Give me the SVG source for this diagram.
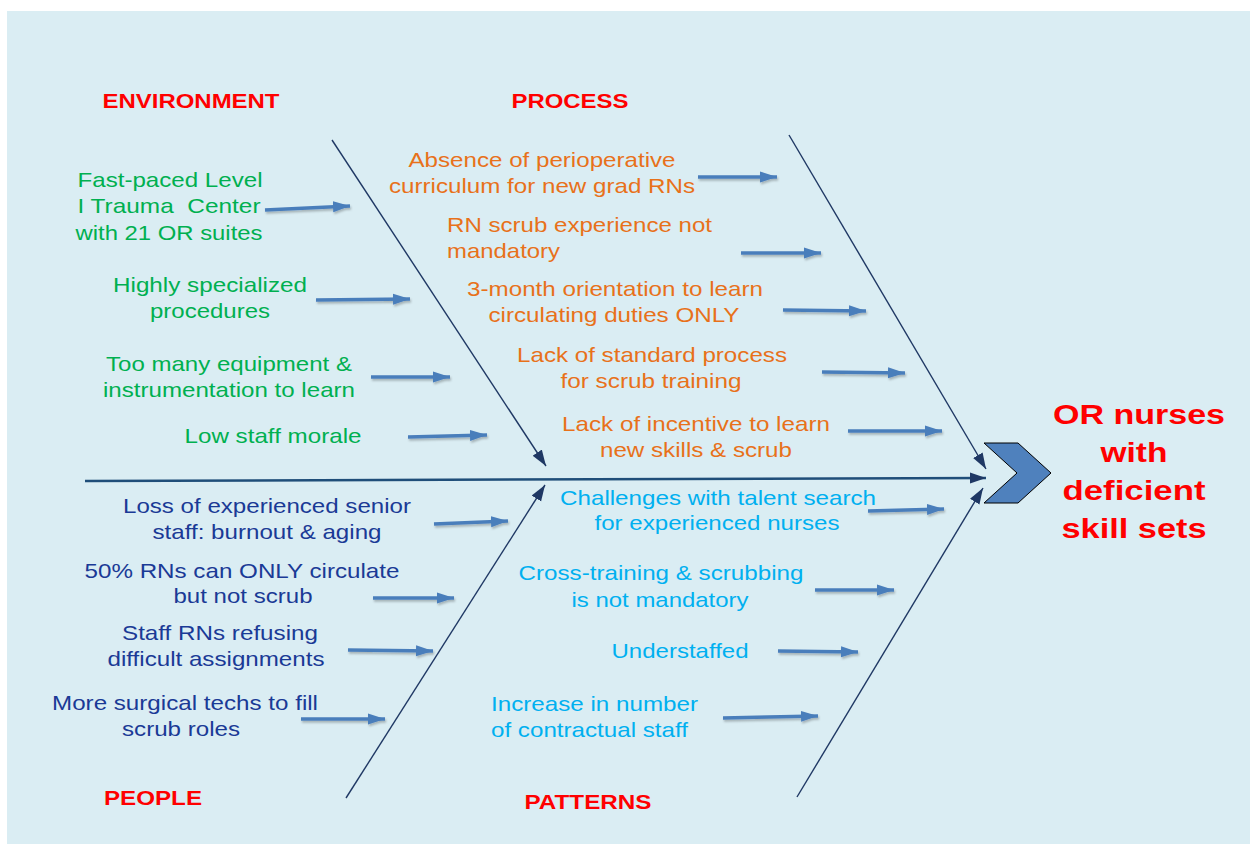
<svg xmlns="http://www.w3.org/2000/svg" width="1250" height="844" viewBox="0 0 1250 844">
<defs>
<style>
.t{font-family:"Liberation Sans",Arial,sans-serif;font-size:21px;text-anchor:middle}
.l{text-anchor:start}
.g{fill:#00b050}.o{fill:#e8711a}.c{fill:#00b0f0}.b{fill:#1a3a96}
.h{font-family:"Liberation Sans",Arial,sans-serif;font-size:20px;font-weight:bold;fill:#ff0000;text-anchor:middle}
.r{font-family:"Liberation Sans",Arial,sans-serif;font-size:28px;font-weight:bold;fill:#ff0000;text-anchor:middle}
.sa{stroke:#4a7ebb;stroke-width:3.5;fill:none;marker-end:url(#ah)}
.bone{stroke:#1f3864;stroke-width:1.4;fill:none;marker-end:url(#th)}
</style>
<marker id="ah" markerUnits="userSpaceOnUse" markerWidth="18" markerHeight="12" refX="17" refY="6" orient="auto"><path d="M0,0.5 L17,6 L0,11.5 z" fill="#4a7ebb"/></marker>
<marker id="th" markerUnits="userSpaceOnUse" markerWidth="17" markerHeight="12" refX="16" refY="6" orient="auto"><path d="M0,0.5 L16,6 L0,11.5 z" fill="#1f3864"/></marker>
<filter id="sh" filterUnits="userSpaceOnUse" x="0" y="0" width="1250" height="844"><feDropShadow dx="1" dy="2" stdDeviation="1.2" flood-color="#000" flood-opacity="0.25"/></filter>
</defs>
<rect x="0" y="0" width="1250" height="844" fill="#ffffff"/>
<rect x="7" y="11" width="1243" height="833" fill="#daedf3"/>

<g id="connectors">
<line x1="85" y1="481" x2="986" y2="478" stroke="#1f4e79" stroke-width="2.5" marker-end="url(#th)"/>
<line class="bone" x1="332" y1="140" x2="546" y2="466"/>
<line class="bone" x1="789" y1="135" x2="986" y2="469"/>
<line class="bone" x1="346" y1="798" x2="545" y2="485"/>
<line class="bone" x1="797" y1="797" x2="983" y2="488"/>
<g filter="url(#sh)">
<line class="sa" x1="265" y1="210" x2="350" y2="206"/>
<line class="sa" x1="316" y1="300" x2="410" y2="299"/>
<line class="sa" x1="371" y1="377" x2="450" y2="377"/>
<line class="sa" x1="408" y1="437" x2="487" y2="435"/>
<line class="sa" x1="698" y1="177" x2="777" y2="177"/>
<line class="sa" x1="741" y1="253" x2="821" y2="253"/>
<line class="sa" x1="783" y1="310" x2="866" y2="311"/>
<line class="sa" x1="822" y1="372" x2="905" y2="373"/>
<line class="sa" x1="848" y1="431" x2="942" y2="431"/>
<line class="sa" x1="868" y1="511" x2="944" y2="509"/>
<line class="sa" x1="815" y1="590" x2="894" y2="590"/>
<line class="sa" x1="778" y1="651" x2="858" y2="652"/>
<line class="sa" x1="723" y1="718" x2="818" y2="716"/>
<line class="sa" x1="434" y1="524" x2="508" y2="521"/>
<line class="sa" x1="373" y1="598" x2="454" y2="598"/>
<line class="sa" x1="348" y1="650" x2="433" y2="651"/>
<line class="sa" x1="301" y1="719" x2="385" y2="719"/>
</g>
</g>

<g id="head">
<polygon points="984,443 1018,443 1051,473 1018,503 984,503 1017,473" fill="#4f81bd" stroke="#000" stroke-width="1"/>
<text class="r" x="1139" y="424" textLength="172" lengthAdjust="spacingAndGlyphs">OR nurses</text>
<text class="r" x="1134" y="462" textLength="67" lengthAdjust="spacingAndGlyphs">with</text>
<text class="r" x="1134" y="500" textLength="143" lengthAdjust="spacingAndGlyphs">deficient</text>
<text class="r" x="1134" y="538" textLength="145" lengthAdjust="spacingAndGlyphs">skill sets</text>
</g>

<g id="categories">
<text class="h" x="191" y="108" textLength="177" lengthAdjust="spacingAndGlyphs">ENVIRONMENT</text>
<text class="h" x="570" y="108" textLength="117" lengthAdjust="spacingAndGlyphs">PROCESS</text>
<text class="h" x="153" y="805" textLength="98" lengthAdjust="spacingAndGlyphs">PEOPLE</text>
<text class="h" x="588" y="809" textLength="127" lengthAdjust="spacingAndGlyphs">PATTERNS</text>
</g>

<g id="environment">
<text class="t g" x="170" y="187" textLength="185" lengthAdjust="spacingAndGlyphs">Fast-paced Level</text>
<text class="t g" x="169" y="213" textLength="183" lengthAdjust="spacingAndGlyphs" xml:space="preserve" style="white-space:pre">I Trauma  Center</text>
<text class="t g" x="169" y="240" textLength="187" lengthAdjust="spacingAndGlyphs">with 21 OR suites</text>
<text class="t g" x="210" y="292" textLength="194" lengthAdjust="spacingAndGlyphs">Highly specialized</text>
<text class="t g" x="210" y="318" textLength="120" lengthAdjust="spacingAndGlyphs">procedures</text>
<text class="t g" x="229" y="371" textLength="246" lengthAdjust="spacingAndGlyphs">Too many equipment &amp;</text>
<text class="t g" x="229" y="397" textLength="252" lengthAdjust="spacingAndGlyphs">instrumentation to learn</text>
<text class="t g" x="273" y="443" textLength="177" lengthAdjust="spacingAndGlyphs">Low staff morale</text>
</g>

<g id="process">
<text class="t o" x="542" y="167" textLength="267" lengthAdjust="spacingAndGlyphs">Absence of perioperative</text>
<text class="t o" x="542" y="193" textLength="306" lengthAdjust="spacingAndGlyphs">curriculum for new grad RNs</text>
<text class="t o l" x="447" y="232" textLength="265" lengthAdjust="spacingAndGlyphs">RN scrub experience not</text>
<text class="t o l" x="447" y="258" textLength="113" lengthAdjust="spacingAndGlyphs">mandatory</text>
<text class="t o" x="615" y="296" textLength="296" lengthAdjust="spacingAndGlyphs">3-month orientation to learn</text>
<text class="t o" x="614" y="322" textLength="251" lengthAdjust="spacingAndGlyphs">circulating duties ONLY</text>
<text class="t o" x="652" y="362" textLength="270" lengthAdjust="spacingAndGlyphs">Lack of standard process</text>
<text class="t o" x="651" y="388" textLength="181" lengthAdjust="spacingAndGlyphs">for scrub training</text>
<text class="t o" x="696" y="431" textLength="268" lengthAdjust="spacingAndGlyphs">Lack of incentive to learn</text>
<text class="t o" x="696" y="457" textLength="192" lengthAdjust="spacingAndGlyphs">new skills &amp; scrub</text>
</g>

<g id="patterns">
<text class="t c" x="718" y="505" textLength="316" lengthAdjust="spacingAndGlyphs">Challenges with talent search</text>
<text class="t c" x="717" y="530" textLength="245" lengthAdjust="spacingAndGlyphs">for experienced nurses</text>
<text class="t c" x="661" y="580" textLength="285" lengthAdjust="spacingAndGlyphs">Cross-training &amp; scrubbing</text>
<text class="t c" x="660" y="607" textLength="177" lengthAdjust="spacingAndGlyphs">is not mandatory</text>
<text class="t c" x="680" y="658" textLength="137" lengthAdjust="spacingAndGlyphs">Understaffed</text>
<text class="t c l" x="491" y="711" textLength="207" lengthAdjust="spacingAndGlyphs">Increase in number</text>
<text class="t c l" x="491" y="737" textLength="197" lengthAdjust="spacingAndGlyphs">of contractual staff</text>
</g>

<g id="people">
<text class="t b" x="267" y="513" textLength="288" lengthAdjust="spacingAndGlyphs">Loss of experienced senior</text>
<text class="t b" x="267" y="539" textLength="229" lengthAdjust="spacingAndGlyphs">staff: burnout &amp; aging</text>
<text class="t b" x="242" y="578" textLength="315" lengthAdjust="spacingAndGlyphs">50% RNs can ONLY circulate</text>
<text class="t b" x="243" y="603" textLength="139" lengthAdjust="spacingAndGlyphs">but not scrub</text>
<text class="t b" x="220" y="640" textLength="196" lengthAdjust="spacingAndGlyphs">Staff RNs refusing</text>
<text class="t b" x="216" y="666" textLength="217" lengthAdjust="spacingAndGlyphs">difficult assignments</text>
<text class="t b" x="185" y="710" textLength="266" lengthAdjust="spacingAndGlyphs">More surgical techs to fill</text>
<text class="t b" x="181" y="736" textLength="118" lengthAdjust="spacingAndGlyphs">scrub roles</text>
</g>
</svg>
